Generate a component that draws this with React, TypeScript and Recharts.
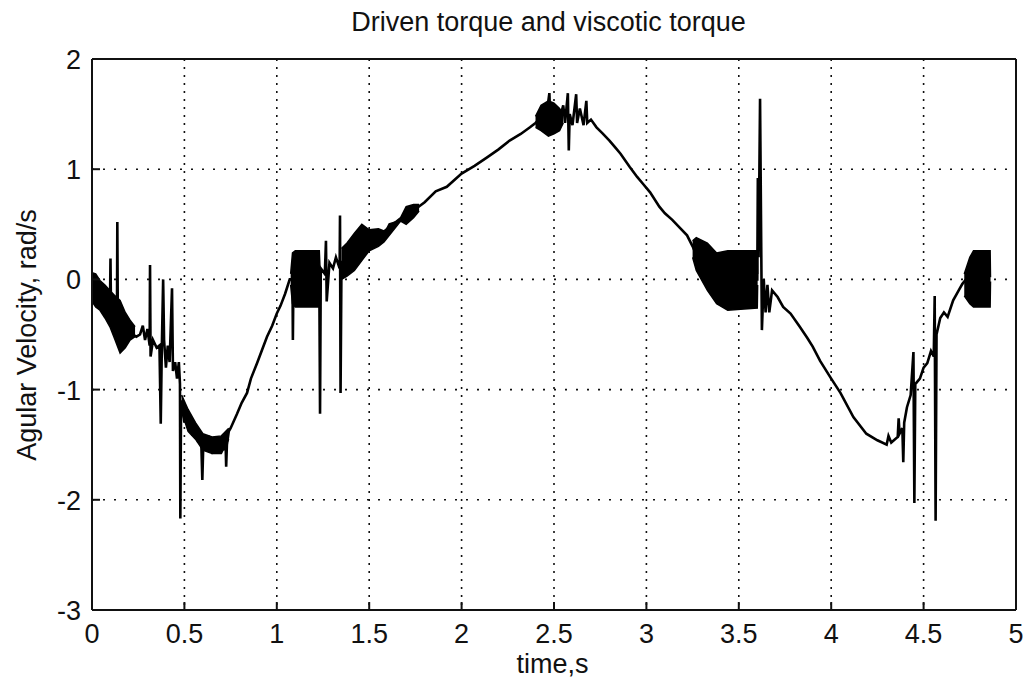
import React from "react";
import {
  Area,
  CartesianGrid,
  ComposedChart,
  Line,
  XAxis,
  YAxis,
} from "recharts";

const W = 1027;
const H = 686;

const xTicks = [0, 0.5, 1, 1.5, 2, 2.5, 3, 3.5, 4, 4.5, 5];
const yTicks = [-3, -2, -1, 0, 1, 2];

// main trace, [time s, angular velocity rad/s], in drawing order (spikes repeat t)
const startPart: [number, number][] = [
  [0, 0.0], [0.02, -0.05], [0.04, -0.12], [0.06, -0.18], [0.08, -0.25],
  [0.097, -0.28], [0.1, 0.19], [0.103, -0.3], [0.12, -0.35], [0.135, -0.4],
  [0.137, 0.52], [0.14, -0.45], [0.16, -0.5], [0.18, -0.48], [0.2, -0.45],
  [0.22, -0.5], [0.24, -0.52], [0.26, -0.5], [0.275, -0.42], [0.287, -0.55],
  [0.3, -0.45], [0.312, -0.6], [0.314, 0.13], [0.317, -0.7], [0.33, -0.55],
  [0.35, -0.62], [0.365, -0.6], [0.372, -1.31], [0.378, -0.6], [0.385, 0.0],
  [0.39, -0.55], [0.4, -0.8], [0.41, -0.6], [0.42, -0.75], [0.433, -0.08],
  [0.438, -0.83], [0.45, -0.75], [0.46, -0.9], [0.47, -0.75], [0.476, -0.95],
  [0.478, -2.17], [0.482, -1.1],
];

const troughPart: [number, number][] = [
  [0.49, -1.15], [0.5, -1.3], [0.51, -1.2], [0.52, -1.35], [0.53, -1.25],
  [0.545, -1.42], [0.56, -1.35], [0.575, -1.48], [0.59, -1.4], [0.597, -1.82],
  [0.603, -1.45], [0.62, -1.52], [0.635, -1.45], [0.65, -1.55], [0.665, -1.47],
  [0.68, -1.58], [0.695, -1.45], [0.71, -1.55], [0.722, -1.42], [0.726, -1.7],
  [0.73, -1.5], [0.74, -1.38], [0.75, -1.35],
  [0.785, -1.22], [0.81, -1.12], [0.839, -1.03], [0.86, -0.9], [0.893, -0.76],
  [0.92, -0.64], [0.947, -0.52], [0.975, -0.42], [1.0, -0.31], [1.02, -0.24],
  [1.045, -0.13], [1.07, 0.0],
];

const risePart: [number, number][] = [
  [1.085, 0.0], [1.087, -0.55], [1.09, 0.0], [1.15, 0.0], [1.23, 0.0],
  [1.234, -1.22], [1.238, 0.1], [1.26, 0.05], [1.266, 0.35], [1.27, -0.2],
  [1.285, 0.15], [1.304, 0.1], [1.32, 0.2], [1.34, 0.1], [1.342, 0.58],
  [1.345, -1.03], [1.35, 0.15], [1.38, 0.2], [1.42, 0.25], [1.46, 0.32],
  [1.5, 0.35], [1.55, 0.4], [1.58, 0.4], [1.61, 0.5], [1.65, 0.52],
  [1.68, 0.56], [1.72, 0.6], [1.76, 0.65], [1.8, 0.7], [1.86, 0.8],
  [1.92, 0.84], [2.0, 0.96], [2.07, 1.03], [2.14, 1.11], [2.2, 1.18],
  [2.26, 1.26], [2.32, 1.32], [2.37, 1.38], [2.4, 1.42],
];

const peakPart: [number, number][] = [
  [2.43, 1.47], [2.46, 1.5], [2.475, 1.69], [2.48, 1.45], [2.5, 1.48],
  [2.52, 1.5], [2.53, 1.45], [2.55, 1.58], [2.56, 1.42], [2.575, 1.69],
  [2.58, 1.17], [2.585, 1.5], [2.6, 1.4], [2.62, 1.68], [2.625, 1.42],
  [2.64, 1.55], [2.66, 1.4], [2.675, 1.62], [2.68, 1.42], [2.7, 1.45],
  [2.73, 1.38], [2.76, 1.33], [2.8, 1.26], [2.83, 1.2], [2.86, 1.14],
  [2.91, 1.02], [2.95, 0.93], [2.98, 0.87], [3.02, 0.79], [3.07, 0.66],
  [3.1, 0.6], [3.14, 0.54], [3.18, 0.47], [3.22, 0.4], [3.25, 0.3],
  [3.27, 0.22],
];

const fallPart: [number, number][] = [
  [3.3, 0.1], [3.35, 0.05], [3.4, 0.0], [3.5, 0.0], [3.6, 0.0],
  [3.603, 0.92], [3.607, 0.2], [3.615, 1.64], [3.625, -0.46], [3.635, 0.0],
  [3.645, -0.3], [3.655, -0.05], [3.665, -0.3], [3.68, -0.1], [3.71, -0.16],
  [3.74, -0.25], [3.78, -0.31], [3.83, -0.43], [3.87, -0.53], [3.9, -0.61],
  [3.94, -0.74], [4.0, -0.9], [4.05, -1.03], [4.12, -1.25], [4.19, -1.4],
  [4.25, -1.46], [4.3, -1.5], [4.31, -1.42], [4.325, -1.48], [4.36, -1.43],
  [4.365, -1.26], [4.37, -1.4], [4.385, -1.35], [4.39, -1.66], [4.395, -1.3],
  [4.41, -1.16], [4.43, -1.05], [4.445, -0.66], [4.45, -2.03], [4.455, -0.95],
  [4.48, -0.9], [4.5, -0.8], [4.52, -0.76], [4.54, -0.65], [4.555, -0.7],
  [4.56, -0.15], [4.565, -2.19], [4.57, -0.5], [4.59, -0.35], [4.61, -0.3],
  [4.63, -0.34], [4.66, -0.19], [4.69, -0.1], [4.71, -0.04], [4.73, 0.0],
  [4.8, 0.0], [4.86, 0.0],
];

// dense oscillation blobs, [time, low, high]
const bandStart: [number, number, number][] = [
  [0, -0.2, 0.06], [0.02, -0.25, 0.05], [0.043, -0.28, -0.01], [0.07, -0.35, -0.05],
  [0.097, -0.43, -0.1], [0.125, -0.55, -0.15], [0.152, -0.67, -0.19],
  [0.18, -0.62, -0.3], [0.206, -0.55, -0.37], [0.233, -0.52, -0.43],
];
const bandTrough: [number, number, number][] = [
  [0.485, -1.2, -1.05], [0.52, -1.38, -1.18], [0.56, -1.45, -1.3],
  [0.6, -1.55, -1.4], [0.65, -1.58, -1.43], [0.7, -1.58, -1.42],
  [0.74, -1.45, -1.35],
];
const bandOne: [number, number, number][] = [
  [1.075, -0.05, 0.05], [1.085, -0.22, 0.24], [1.1, -0.25, 0.26],
  [1.23, -0.25, 0.26], [1.235, -0.05, 0.05],
];
const bandRise: [number, number, number][] = [
  [1.35, 0.0, 0.28], [1.38, 0.03, 0.33], [1.42, 0.08, 0.42], [1.46, 0.17, 0.5],
  [1.5, 0.26, 0.45], [1.55, 0.3, 0.46], [1.58, 0.34, 0.44],
  [1.67, 0.53, 0.56], [1.7, 0.5, 0.66], [1.74, 0.56, 0.68], [1.77, 0.62, 0.68],
];
const bandPeak: [number, number, number][] = [
  [2.4, 1.38, 1.48], [2.43, 1.35, 1.58], [2.47, 1.3, 1.62], [2.5, 1.32, 1.6],
  [2.53, 1.35, 1.55], [2.55, 1.42, 1.5],
];
const bandFall: [number, number, number][] = [
  [3.25, 0.2, 0.35], [3.27, 0.08, 0.38], [3.33, -0.1, 0.33], [3.38, -0.22, 0.24],
  [3.44, -0.28, 0.26], [3.51, -0.27, 0.26], [3.6, -0.26, 0.26], [3.602, -0.05, 0.05],
];
const bandEnd: [number, number, number][] = [
  [4.72, -0.15, 0.05], [4.75, -0.22, 0.2], [4.77, -0.25, 0.26],
  [4.86, -0.25, 0.26], [4.862, -0.02, 0.02],
];

const trace = [...startPart, ...troughPart, ...risePart, ...peakPart, ...fallPart].map(
  ([t, v]) => ({ t, v })
);
const bands = [bandStart, bandTrough, bandOne, bandRise, bandPeak, bandFall, bandEnd].map((b) =>
  b.map(([t, lo, hi]) => ({ t, r: [lo, hi] }))
);

const FONT = "'Liberation Sans', Arial, sans-serif";
const INK = "#111";

const BottomTick = ({ x, y, payload }: any) => (
  <g>
    <line x1={x} x2={x} y1={y} y2={y - 8} stroke={INK} strokeWidth={2} />
    <text x={x} y={y + 33} textAnchor="middle" fontSize={27} fontFamily={FONT} fill={INK}>
      {payload.value}
    </text>
  </g>
);
const LeftTick = ({ x, y, payload }: any) => (
  <g>
    <line x1={x} x2={x + 8} y1={y} y2={y} stroke={INK} strokeWidth={2} />
    <text x={x - 11} y={y + 10} textAnchor="end" fontSize={27} fontFamily={FONT} fill={INK}>
      {payload.value}
    </text>
  </g>
);
const TopTick = ({ x, y }: any) => (
  <line x1={x} x2={x} y1={y} y2={y + 8} stroke={INK} strokeWidth={2} />
);
const RightTick = ({ x, y }: any) => (
  <line x1={x} x2={x - 8} y1={y} y2={y} stroke={INK} strokeWidth={2} />
);

export default function App() {
  return (
    <div style={{ position: "absolute", left: 0, top: 0, width: W, height: H, background: "#fff" }}>
      <ComposedChart width={W} height={H} margin={{ top: 0, right: 0, bottom: 0, left: 0 }}>
        <CartesianGrid horizontal={false} stroke={INK} strokeWidth={1.6} strokeDasharray="2 6" />
        <CartesianGrid vertical={false} stroke={INK} strokeWidth={1.6} strokeDasharray="2 9" />
        <XAxis
          type="number"
          dataKey="t"
          domain={[0, 5]}
          ticks={xTicks}
          interval={0}
          height={76}
          tickSize={0}
          tickMargin={0}
          tickLine={false}
          axisLine={{ stroke: INK, strokeWidth: 2 }}
          tick={<BottomTick />}
          allowDataOverflow
        />
        <XAxis
          xAxisId="top"
          orientation="top"
          type="number"
          dataKey="t"
          domain={[0, 5]}
          ticks={xTicks}
          interval={0}
          height={59}
          tickSize={0}
          tickMargin={0}
          tickLine={false}
          axisLine={{ stroke: INK, strokeWidth: 2 }}
          tick={<TopTick />}
        />
        <YAxis
          type="number"
          domain={[-3, 2]}
          ticks={yTicks}
          interval={0}
          width={92}
          tickSize={0}
          tickMargin={0}
          tickLine={false}
          axisLine={{ stroke: INK, strokeWidth: 2 }}
          tick={<LeftTick />}
          allowDataOverflow
        />
        <YAxis
          yAxisId="right"
          orientation="right"
          type="number"
          domain={[-3, 2]}
          ticks={yTicks}
          interval={0}
          width={11}
          tickSize={0}
          tickMargin={0}
          tickLine={false}
          axisLine={{ stroke: INK, strokeWidth: 2 }}
          tick={<RightTick />}
        />
        {bands.map((b, i) => (
          <Area
            key={i}
            data={b}
            dataKey="r"
            type="linear"
            stroke="#000"
            strokeWidth={1.5}
            fill="#000"
            fillOpacity={1}
            dot={false}
            activeDot={false}
            isAnimationActive={false}
          />
        ))}
        <Line
          data={trace}
          dataKey="v"
          type="linear"
          stroke="#000"
          strokeWidth={2.6}
          dot={false}
          activeDot={false}
          isAnimationActive={false}
        />
      </ComposedChart>
      <div
        style={{
          position: "absolute", left: 0, width: W, top: 8, textAlign: "center",
          paddingLeft: 70, boxSizing: "border-box", lineHeight: "28px",
          fontFamily: FONT, fontSize: 27, color: INK, whiteSpace: "nowrap",
        }}
      >
        Driven torque and viscotic torque
      </div>
      <div
        style={{
          position: "absolute", left: 0, width: W, top: 651, textAlign: "center",
          paddingLeft: 78, boxSizing: "border-box", lineHeight: "27px",
          fontFamily: FONT, fontSize: 27, color: INK,
        }}
      >
        time,s
      </div>
      <div
        style={{
          position: "absolute", left: 27, top: 335, width: 0, height: 0,
          fontFamily: FONT, fontSize: 27, color: INK, whiteSpace: "nowrap",
        }}
      >
        <div style={{ position: "absolute", transform: "translate(-50%, -50%) rotate(-90deg)", lineHeight: "30px" }}>
          Agular Velocity, rad/s
        </div>
      </div>
    </div>
  );
}
